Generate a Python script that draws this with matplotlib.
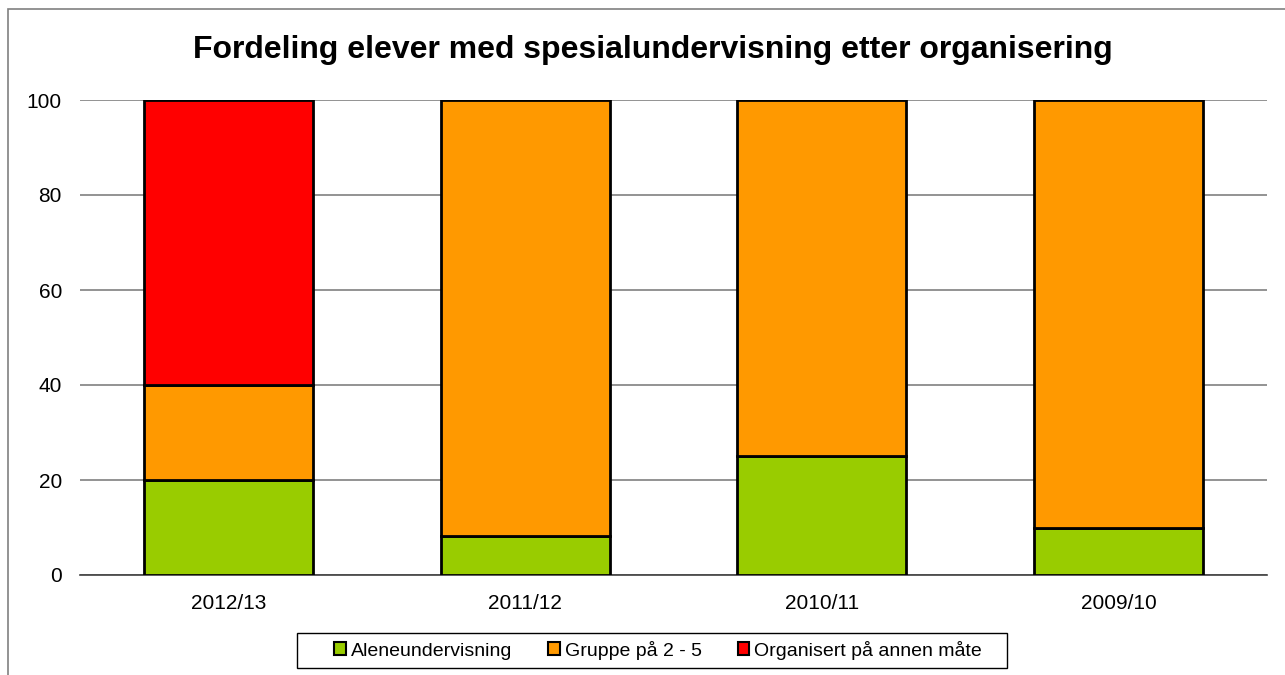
import matplotlib
matplotlib.use("Agg")
import matplotlib.pyplot as plt
from matplotlib.patches import Rectangle, Patch
import numpy as np

plt.rcParams['font.family'] = ['Liberation Sans', 'DejaVu Sans']

categories = ["2012/13", "2011/12", "2010/11", "2009/10"]
aleneundervisning = [20, 8.3, 25, 10]
gruppe = [20, 91.7, 75, 90]
annen = [60, 0, 0, 0]
series_names = ["Aleneundervisning", "Gruppe på 2 - 5", "Organisert på annen måte"]
colors = ["#99CC00", "#FF9900", "#FF0000"]
yticks = [0, 20, 40, 60, 80, 100]
title = "Fordeling elever med spesialundervisning etter organisering"

fig = plt.figure(figsize=(12.85, 6.75), dpi=100)
ax = fig.add_axes([80/1285, 1-575/675, (1267-80)/1285, 475/675])

x = np.arange(len(categories))
w = 0.57
bottom = np.zeros(len(categories))
for vals, c in zip([aleneundervisning, gruppe, annen], colors):
    vals = np.array(vals, dtype=float)
    mask = vals > 0
    ax.bar(x[mask], vals[mask], w, bottom=bottom[mask], color=c,
           edgecolor="black", linewidth=2, zorder=3)
    bottom += vals

ax.set_xlim(-0.5, len(categories) - 0.5)
ax.set_ylim(0, 100)
ax.set_yticks(yticks)
ax.set_xticks(x)
ax.set_xticklabels(categories)
ax.tick_params(axis='both', labelsize=15, length=0, colors="black")
ax.tick_params(axis='y', pad=13)
ax.tick_params(axis='x', pad=14)
ax.grid(axis='y', color="#808080", linewidth=1.2, zorder=0)
for s in ["top", "right", "left"]:
    ax.spines[s].set_visible(False)
ax.spines["bottom"].set_color("#404040")
ax.spines["bottom"].set_linewidth(1.2)

fig.text(653/1285, 1-50/675, title, ha="center", va="center",
         fontsize=23, fontweight="bold")

handles = [Patch(facecolor=c, edgecolor="black", linewidth=1.5) for c in colors]
leg = fig.legend(handles, series_names, loc="center", bbox_to_anchor=(658/1285, 1-650/675),
                 ncol=3, fontsize=14, frameon=False,
                 handlelength=0.6, handleheight=0.6,
                 handletextpad=0.25, columnspacing=1.85, borderpad=0.4)

fig.patches.append(Rectangle((297/1285, 1-668/675), 710/1285, 35/675, transform=fig.transFigure,
                             fill=False, edgecolor="black", linewidth=1.0))

fig.patches.append(Rectangle((8/1285, -0.01), 1.0, 1-9/675 + 0.01, transform=fig.transFigure,
                             fill=False, edgecolor="#808080", linewidth=1.2))

fig.savefig("out.png", dpi=100)
